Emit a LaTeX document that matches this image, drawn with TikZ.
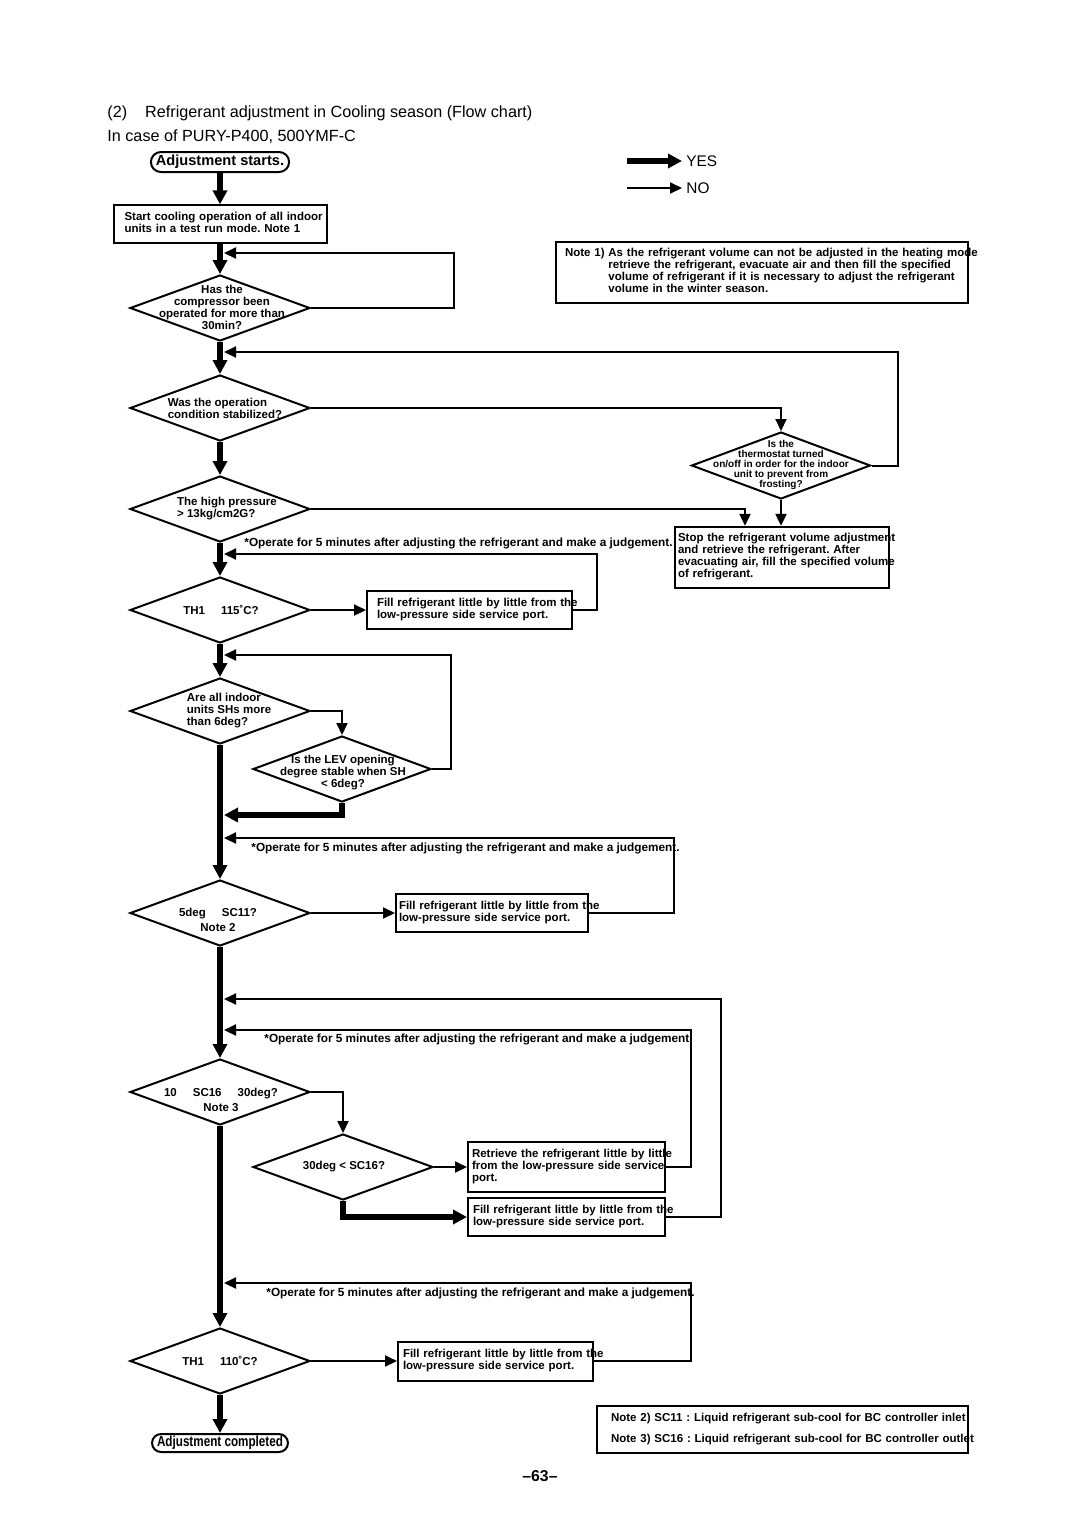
\documentclass[tikz,border=0pt]{standalone}
\usepackage{fontspec}
\setmainfont{Liberation Sans}
\newfontfamily\narrowfont[FakeStretch=0.8]{Liberation Sans}
\usetikzlibrary{arrows.meta}
\usetikzlibrary{shapes.geometric}
\frenchspacing
\newcommand{\titlefont}{\fontsize{8.1}{9}\selectfont}
\newcommand{\boxfont}{\fontsize{5.75}{6}\selectfont\bfseries}
\newcommand{\tinyboxfont}{\fontsize{5}{5}\selectfont\bfseries}
\newcommand{\boxlines}[1]{\begin{tabular}{@{}l@{}}#1\end{tabular}}
\tikzset{procbox/.style={draw,line width=1pt,align=left,text width=#1,font=\boxfont},procbox/.default=95pt}
\tikzset{decision/.style={diamond,draw,line width=1pt,inner sep=0pt,minimum width=#1,minimum height=33pt},decision/.default=90pt}
\tikzset{question/.style={align=#1,inner sep=0pt,font=\boxfont},question/.default=center}
\tikzset{terminal/.style={draw,line width=1pt,rounded corners=#1,inner xsep=2.5pt,inner ysep=0pt,minimum height=2*#1},terminal/.default=5pt}
\tikzset{remark/.style={anchor=east,inner sep=0pt,font=\fontsize{5.9}{6}\selectfont\bfseries}}
\tikzset{yes arrow/.style={line width=3pt,-{Triangle[length=7pt,width=7pt]}}}
\tikzset{no arrow/.style={line width=1pt,-{Triangle[length=6pt,width=5.5pt]}}}

\begin{document}
\begin{tikzpicture}[x=0.5pt,y=-0.5pt]

	\path[use as bounding box,fill=white] (0,0) rectangle (1080,1528);

	% Title
	\node [anchor=west,inner sep=0pt,font=\titlefont] (title) at (107,113)
		{(2)\hspace{9pt}Refrigerant adjustment in Cooling season (Flow chart)};
	\node [anchor=west,inner sep=0pt,font=\titlefont] (model) at (107,137)
		{In case of PURY-P400, 500YMF-C};

	% Legend
	\node [anchor=west,inner sep=0pt,font=\fontsize{7.7}{8}\selectfont] (yes) at (686,161) {YES};
	\node [anchor=west,inner sep=0pt,font=\fontsize{7.7}{8}\selectfont] (no) at (686,188) {NO};
	\coordinate (yes start) at (627,161);
	\coordinate (no start) at (627,188);
	\draw [yes arrow] (yes start) -- ([xshift=-2pt]yes.west);
	\draw [no arrow] (no start) -- ([xshift=-2pt]no.west);

	% Note 1
	\node [procbox=197pt,inner xsep=4.5pt,minimum height=29.5pt] (note1) at (762,272.5)
		{\begin{tabular}{@{}l@{ }l@{}}
			Note 1) & As the refrigerant volume can not be adjusted in the heating mode\\
			& retrieve the refrigerant, evacuate air and then fill the specified\\
			& volume of refrigerant if it is necessary to adjust the refrigerant\\
			& volume in the winter season.
		\end{tabular}};

	% Start
	\node [terminal,font=\fontsize{7.3}{8}\selectfont\bfseries] (start) at (220,162) {Adjustment starts.};
	\node [procbox=95.5pt,inner xsep=5.5pt,minimum height=17pt] (b1) at (220,224)
		{\boxlines{Start cooling operation of all indoor\\units in a test run mode. Note 1}};

	% Compressor time
	\node [decision] (d1) at (220,308) {};
	\node [question] (d1 text) at (222,307)
		{Has the\\compressor been\\operated for more than\\30min?};

	% Operation stable
	\node [decision] (d2) at (220,408) {};
	\node [question=left] (d2 text) at (225,408)
		{Was the operation\\condition stabilized?};

	% Thermostat
	\node [decision=89.5pt,minimum height=33.5pt] (th) at (781,465.5) {};
	\node [question,font=\tinyboxfont] (th text) at (781,465)
		{Is the\\thermostat turned\\on/off in order for the indoor\\unit to prevent from\\frosting?};

	% High pressure
	\node [decision] (d3) at (220,509) {};
	\node [question=left] (d3 text) at (227,509)
		{The high pressure\\> 13kg/cm2G?};

	% Stop
	\node [procbox=104pt,inner xsep=1.5pt,minimum height=29.5pt] (stop) at (782,557.5)
		{\boxlines{Stop the refrigerant volume adjustment\\and retrieve the refrigerant. After\\evacuating air, fill the specified volume\\of refrigerant.}};
	\node [remark] (op1) at (673,543)
		{*Operate for 5 minutes after adjusting the refrigerant and make a judgement.};

	% TH1 115
	\node [decision] (d4) at (220,610) {};
	\node [question] (d4 text) at (221,610) {TH1\hspace{8pt}115˚C?};
	\node [procbox=92.5pt,inner xsep=5pt,minimum height=19pt] (f1) at (469.5,610)
		{\boxlines{Fill refrigerant little by little from the\\low-pressure side service port.}};

	% Superheat
	\node [decision] (d5) at (220,711) {};
	\node [question=left] (d5 text) at (229,711)
		{Are all indoor\\units SHs more\\than 6deg?};
	\node [decision=89pt] (lev) at (342,769) {};
	\node [question] (lev text) at (343,773)
		{Is the LEV opening\\degree stable when SH\\< 6deg?};
	\node [remark] (op2) at (680,848)
		{*Operate for 5 minutes after adjusting the refrigerant and make a judgement.};

	% SC11
	\node [decision] (d6) at (220,913) {};
	\node [question] (d6 text) at (218,920) {5deg\hspace{8pt}SC11?\\[1.5pt]Note 2};
	\node [procbox=93pt,inner xsep=1.5pt,minimum height=19pt] (f2) at (492,913)
		{\boxlines{Fill refrigerant little by little from the\\low-pressure side service port.}};
	\node [remark] (op3) at (693,1039)
		{*Operate for 5 minutes after adjusting the refrigerant and make a judgement.};

	% SC16
	\node [decision] (d7) at (220,1092) {};
	\node [question] (d7 text) at (221,1099.5) {10\hspace{8pt}SC16\hspace{8pt}30deg?\\[1.5pt]Note 3};
	\node [decision] (sc) at (343,1167) {};
	\node [question] (sc text) at (344,1167) {30deg < SC16?};
	\node [procbox=94.5pt,inner xsep=2pt,minimum height=19pt] (r1) at (566.5,1167)
		{\boxlines{Retrieve the refrigerant little by little\\from the low-pressure side service\\port.}};
	\node [procbox=93.5pt,inner xsep=2.5pt,minimum height=19pt] (f4) at (566.5,1217)
		{\boxlines{Fill refrigerant little by little from the\\low-pressure side service port.}};
	\node [remark] (op4) at (695,1293)
		{*Operate for 5 minutes after adjusting the refrigerant and make a judgement.};

	% TH1 110
	\node [decision] (d9) at (220,1361) {};
	\node [question] (d9 text) at (220,1361) {TH1\hspace{8pt}110˚C?};
	\node [procbox=92.5pt,inner xsep=2.5pt,minimum height=19.5pt] (f5) at (495.5,1361)
		{\boxlines{Fill refrigerant little by little from the\\low-pressure side service port.}};

	% End
	\node [terminal=4.5pt,font=\fontsize{7.3}{8}\selectfont\narrowfont\bfseries] (end) at (220,1443)
		{Adjustment completed};

	% Notes 2 and 3
	\node [procbox=171.5pt,inner xsep=7pt,minimum height=21.5pt] (note23) at (782.5,1429.5)
		{\boxlines{Note 2) SC11 : Liquid refrigerant sub-cool for BC controller inlet\\[4.5pt]
			Note 3) SC16 : Liquid refrigerant sub-cool for BC controller outlet}};
	\node [inner sep=0pt,font=\fontsize{7.9}{8}\selectfont\bfseries] (page) at (540,1476) {–63–};

	% Joints on the main line
	\coordinate (j1) at (224,253);
	\coordinate (j2) at (224,352);
	\coordinate (j3) at (224,554);
	\coordinate (j4) at (224,655);
	\coordinate (j5) at (224,815);
	\coordinate (j6) at (224,838);
	\coordinate (j7) at (224,1030);
	\coordinate (j8) at (224,999);
	\coordinate (j9) at (224,1283);

	% Main line (YES)
	\draw [yes arrow] (start) -- (b1);
	\draw [yes arrow] (b1) -- (d1);
	\draw [yes arrow] (d1) -- (d2);
	\draw [yes arrow] (d2) -- (d3);
	\draw [yes arrow] (d3) -- (d4);
	\draw [yes arrow] (d4) -- (d5);
	\draw [yes arrow] (d5) -- (d6);
	\draw [yes arrow] (d6) -- (d7);
	\draw [yes arrow] (d7) -- (d9);
	\draw [yes arrow] (d9) -- (end);
	\draw [yes arrow] (lev.south) |- (j5);
	\draw [yes arrow] (sc.south) |- (f4.west);

	% Side branches (NO)
	\draw [no arrow] (d1.east) -- ++(143,0) |- (j1);
	\draw [no arrow] (d2.east) -| (th.north);
	\draw [no arrow] (th.east) -- ++(26,0) |- (j2);
	\draw [no arrow] (d3.east) -| ([xshift=-18.5pt]stop.north);
	\draw [no arrow] (th.south) -- (th.south |- stop.north);
	\draw [no arrow] (d4.east) -- (f1.west);
	\draw [no arrow] (f1.east) -- ++(24,0) |- (j3);
	\draw [no arrow] (d5.east) -| (lev.north);
	\draw [no arrow] (lev.east) -- ++(19,0) |- (j4);
	\draw [no arrow] (d6.east) -- (f2.west);
	\draw [no arrow] (f2.east) -- ++(85,0) |- (j6);
	\draw [no arrow] (d7.east) -| (sc.north);
	\draw [no arrow] (sc.east) -- (r1.west);
	\draw [no arrow] (r1.east) -- ++(25,0) |- (j7);
	\draw [no arrow] (f4.east) -- ++(55,0) |- (j8);
	\draw [no arrow] (d9.east) -- (f5.west);
	\draw [no arrow] (f5.east) -- ++(97,0) |- (j9);

\end{tikzpicture}
\end{document}
